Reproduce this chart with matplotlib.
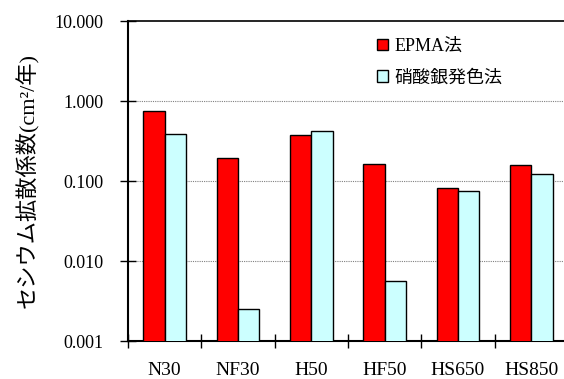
import matplotlib
matplotlib.use('Agg')
import matplotlib.pyplot as plt
import numpy as np

samples = ['N30', 'NF30', 'H50', 'HF50', 'HS650', 'HS850']
epma = [0.75, 0.194, 0.376, 0.163, 0.082, 0.158]
silver = [0.39, 0.0025, 0.42, 0.0056, 0.076, 0.123]
ytick_vals = [0.001, 0.01, 0.1, 1, 10]
ytick_labels = ['0.001', '0.010', '0.100', '1.000', '10.000']

fam = ['Liberation Serif', 'Noto Sans CJK JP', 'DejaVu Sans']
plt.rcParams['font.family'] = fam

fig = plt.figure(figsize=(5.64, 3.79), dpi=100)
ax = fig.add_axes([128 / 564, 38 / 379, 440 / 564, 320 / 379])

x = np.arange(len(samples))
w = 0.29
ax.bar(x - w / 2, epma, w, color='#ff0000', edgecolor='black', linewidth=1, label='EPMA法', zorder=3)
ax.bar(x + w / 2, silver, w, color='#ccffff', edgecolor='black', linewidth=1, label='硝酸銀発色法', zorder=3)

ax.set_yscale('log')
ax.set_ylim(0.001, 10)
ax.set_xlim(-0.5, len(samples) - 0.5)
ax.set_yticks(ytick_vals)
ax.set_yticklabels(ytick_labels, fontsize=13)
ax.yaxis.set_minor_locator(matplotlib.ticker.NullLocator())
ax.tick_params(axis='y', direction='inout', length=11, width=1, pad=12)

# boundary ticks as major, category labels on minor ticks
ax.set_xticks(np.arange(-0.5, len(samples) - 0.5, 1))
ax.set_xticklabels([])
ax.tick_params(axis='x', which='major', direction='inout', length=10, width=1)
ax.set_xticks(x, minor=True)
ax.set_xticklabels(samples, minor=True, fontsize=14)
ax.tick_params(axis='x', which='minor', length=0, pad=15)

for v in ytick_vals[1:-1]:
    ax.axhline(v, color='gray', linestyle=(0, (1, 1)), linewidth=0.8, zorder=1)

ax.spines['left'].set_linewidth(1.5)
ax.spines['bottom'].set_linewidth(1.5)
ax.spines['top'].set_linewidth(1.2)
ax.spines['right'].set_visible(False)

ax.set_ylabel('セシウム拡散係数(cm²/年)', fontsize=16, labelpad=12)

ax.legend(loc='upper left', bbox_to_anchor=(0.545, 0.975), frameon=False,
          fontsize=13, handlelength=0.6, handleheight=0.6, handletextpad=0.4,
          labelspacing=0.8, borderpad=0)

fig.savefig('out.png', dpi=100)
